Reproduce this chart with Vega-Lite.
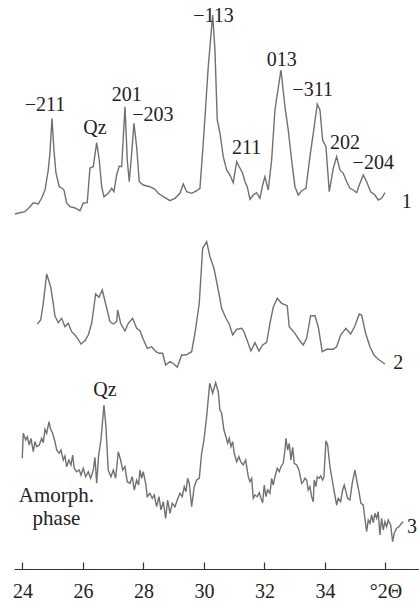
{
  "$schema": "https://vega.github.io/schema/vega-lite/v6.json",
  "width": 405,
  "height": 569,
  "autosize": {"type": "none"},
  "padding": {"left": 14, "top": 0, "right": 0, "bottom": 34},
  "background": "white",
  "config": {"view": {"stroke": null}, "font": "Liberation Serif"},
  "datasets": {
    "curves": [
      {"c":1,"x":23.752,"y":355},{"c":1,"x":23.917,"y":356.3},{"c":1,"x":24.083,"y":357.3},{"c":1,"x":24.248,"y":362.3},{"c":1,"x":24.357,"y":366.3},{"c":1,"x":24.522,"y":365},{"c":1,"x":24.635,"y":371},{"c":1,"x":24.744,"y":379},{"c":1,"x":24.853,"y":399},{"c":1,"x":24.909,"y":416},{"c":1,"x":24.975,"y":450.7},{"c":1,"x":25.041,"y":419},{"c":1,"x":25.107,"y":396},{"c":1,"x":25.217,"y":382.3},{"c":1,"x":25.296,"y":381},{"c":1,"x":25.372,"y":379},{"c":1,"x":25.461,"y":366},{"c":1,"x":25.570,"y":362.3},{"c":1,"x":25.736,"y":361},{"c":1,"x":25.901,"y":358.3},{"c":1,"x":26.010,"y":366},{"c":1,"x":26.142,"y":366.3},{"c":1,"x":26.231,"y":401},{"c":1,"x":26.341,"y":402.3},{"c":1,"x":26.453,"y":426.3},{"c":1,"x":26.539,"y":409},{"c":1,"x":26.618,"y":382.3},{"c":1,"x":26.694,"y":372.3},{"c":1,"x":26.836,"y":375.7},{"c":1,"x":26.949,"y":380.7},{"c":1,"x":27.025,"y":377.3},{"c":1,"x":27.114,"y":394},{"c":1,"x":27.200,"y":403},{"c":1,"x":27.280,"y":402.3},{"c":1,"x":27.389,"y":462.3},{"c":1,"x":27.465,"y":409},{"c":1,"x":27.531,"y":387.3},{"c":1,"x":27.610,"y":415.7},{"c":1,"x":27.686,"y":445.7},{"c":1,"x":27.775,"y":422.3},{"c":1,"x":27.861,"y":387.3},{"c":1,"x":27.994,"y":384},{"c":1,"x":28.215,"y":382.3},{"c":1,"x":28.380,"y":379.7},{"c":1,"x":28.489,"y":375.7},{"c":1,"x":28.655,"y":372.3},{"c":1,"x":28.876,"y":368.3},{"c":1,"x":29.041,"y":370.7},{"c":1,"x":29.207,"y":375.7},{"c":1,"x":29.316,"y":385},{"c":1,"x":29.428,"y":377.3},{"c":1,"x":29.594,"y":375.7},{"c":1,"x":29.759,"y":378.3},{"c":1,"x":29.868,"y":380.7},{"c":1,"x":30.000,"y":436},{"c":1,"x":30.142,"y":502.3},{"c":1,"x":30.288,"y":554},{"c":1,"x":30.364,"y":519},{"c":1,"x":30.440,"y":449},{"c":1,"x":30.529,"y":436},{"c":1,"x":30.638,"y":412.3},{"c":1,"x":30.751,"y":399},{"c":1,"x":30.860,"y":394},{"c":1,"x":30.969,"y":386.3},{"c":1,"x":31.081,"y":407.3},{"c":1,"x":31.167,"y":402.3},{"c":1,"x":31.280,"y":395.7},{"c":1,"x":31.356,"y":387.3},{"c":1,"x":31.432,"y":382.3},{"c":1,"x":31.521,"y":369.7},{"c":1,"x":31.630,"y":374},{"c":1,"x":31.742,"y":376.3},{"c":1,"x":31.851,"y":370.7},{"c":1,"x":31.941,"y":384},{"c":1,"x":32.017,"y":392.3},{"c":1,"x":32.126,"y":379},{"c":1,"x":32.238,"y":409},{"c":1,"x":32.347,"y":459},{"c":1,"x":32.546,"y":499},{"c":1,"x":32.678,"y":462.3},{"c":1,"x":32.787,"y":439},{"c":1,"x":32.899,"y":409},{"c":1,"x":33.008,"y":382.3},{"c":1,"x":33.118,"y":374},{"c":1,"x":33.230,"y":378.3},{"c":1,"x":33.372,"y":380.7},{"c":1,"x":33.504,"y":412.3},{"c":1,"x":33.614,"y":435.7},{"c":1,"x":33.746,"y":465},{"c":1,"x":33.835,"y":459},{"c":1,"x":33.924,"y":429},{"c":1,"x":34.034,"y":422.3},{"c":1,"x":34.143,"y":377.3},{"c":1,"x":34.275,"y":400.7},{"c":1,"x":34.387,"y":412.3},{"c":1,"x":34.496,"y":399},{"c":1,"x":34.606,"y":395.7},{"c":1,"x":34.718,"y":387.3},{"c":1,"x":34.827,"y":380.7},{"c":1,"x":34.936,"y":379},{"c":1,"x":35.049,"y":376.3},{"c":1,"x":35.135,"y":384},{"c":1,"x":35.267,"y":394},{"c":1,"x":35.379,"y":387.3},{"c":1,"x":35.511,"y":377.3},{"c":1,"x":35.653,"y":374},{"c":1,"x":35.763,"y":369},{"c":1,"x":35.875,"y":370.7},{"c":1,"x":35.984,"y":376.3},
      {"c":2,"x":24.489,"y":245},{"c":2,"x":24.602,"y":249},{"c":2,"x":24.688,"y":265.7},{"c":2,"x":24.800,"y":295},{"c":2,"x":24.932,"y":282.3},{"c":2,"x":25.018,"y":265.7},{"c":2,"x":25.074,"y":253},{"c":2,"x":25.183,"y":246.3},{"c":2,"x":25.296,"y":250.7},{"c":2,"x":25.405,"y":242.3},{"c":2,"x":25.514,"y":245.7},{"c":2,"x":25.626,"y":237.3},{"c":2,"x":25.736,"y":234},{"c":2,"x":25.845,"y":229.7},{"c":2,"x":25.934,"y":225},{"c":2,"x":26.066,"y":228.3},{"c":2,"x":26.175,"y":234},{"c":2,"x":26.288,"y":245.7},{"c":2,"x":26.420,"y":275},{"c":2,"x":26.529,"y":271.7},{"c":2,"x":26.638,"y":279},{"c":2,"x":26.760,"y":264},{"c":2,"x":26.893,"y":247.3},{"c":2,"x":27.002,"y":245},{"c":2,"x":27.114,"y":247.3},{"c":2,"x":27.147,"y":259},{"c":2,"x":27.246,"y":245.7},{"c":2,"x":27.388,"y":238},{"c":2,"x":27.498,"y":245.7},{"c":2,"x":27.643,"y":250.7},{"c":2,"x":27.775,"y":240.7},{"c":2,"x":27.884,"y":238.3},{"c":2,"x":27.993,"y":229.7},{"c":2,"x":28.126,"y":220.7},{"c":2,"x":28.271,"y":222.3},{"c":2,"x":28.413,"y":217.3},{"c":2,"x":28.522,"y":215.7},{"c":2,"x":28.635,"y":215.7},{"c":2,"x":28.734,"y":204},{"c":2,"x":28.876,"y":207.3},{"c":2,"x":29.008,"y":205},{"c":2,"x":29.117,"y":201.7},{"c":2,"x":29.263,"y":214},{"c":2,"x":29.405,"y":214},{"c":2,"x":29.593,"y":217.3},{"c":2,"x":29.702,"y":235.7},{"c":2,"x":29.845,"y":265.7},{"c":2,"x":29.957,"y":320.7},{"c":2,"x":30.089,"y":327.3},{"c":2,"x":30.198,"y":312.3},{"c":2,"x":30.331,"y":300.7},{"c":2,"x":30.473,"y":279},{"c":2,"x":30.585,"y":260.7},{"c":2,"x":30.727,"y":250.7},{"c":2,"x":30.836,"y":245},{"c":2,"x":30.949,"y":234},{"c":2,"x":31.081,"y":239.7},{"c":2,"x":31.246,"y":240.7},{"c":2,"x":31.322,"y":237.3},{"c":2,"x":31.445,"y":227.3},{"c":2,"x":31.554,"y":218},{"c":2,"x":31.686,"y":226.3},{"c":2,"x":31.818,"y":218},{"c":2,"x":31.941,"y":224},{"c":2,"x":32.073,"y":226.7},{"c":2,"x":32.182,"y":245.7},{"c":2,"x":32.291,"y":261.7},{"c":2,"x":32.423,"y":270.7},{"c":2,"x":32.569,"y":265.7},{"c":2,"x":32.754,"y":263.3},{"c":2,"x":32.820,"y":242.3},{"c":2,"x":33.008,"y":235.7},{"c":2,"x":33.150,"y":229},{"c":2,"x":33.283,"y":224},{"c":2,"x":33.395,"y":230.7},{"c":2,"x":33.527,"y":253.3},{"c":2,"x":33.669,"y":253.3},{"c":2,"x":33.779,"y":242.3},{"c":2,"x":33.911,"y":217.3},{"c":2,"x":34.056,"y":219.7},{"c":2,"x":34.274,"y":219.7},{"c":2,"x":34.387,"y":222.3},{"c":2,"x":34.519,"y":234},{"c":2,"x":34.694,"y":240.7},{"c":2,"x":34.850,"y":235},{"c":2,"x":34.992,"y":243},{"c":2,"x":35.134,"y":255},{"c":2,"x":35.213,"y":254},{"c":2,"x":35.345,"y":235.7},{"c":2,"x":35.488,"y":222.3},{"c":2,"x":35.620,"y":214},{"c":2,"x":35.762,"y":209.7},{"c":2,"x":35.983,"y":205},
      {"c":3,"x":23.993,"y":110.7},{"c":3,"x":24.026,"y":135.7},{"c":3,"x":24.106,"y":129},{"c":3,"x":24.159,"y":132.3},{"c":3,"x":24.225,"y":124},{"c":3,"x":24.281,"y":130.7},{"c":3,"x":24.357,"y":117.3},{"c":3,"x":24.413,"y":127.3},{"c":3,"x":24.469,"y":122.3},{"c":3,"x":24.555,"y":124},{"c":3,"x":24.635,"y":130.7},{"c":3,"x":24.688,"y":126.3},{"c":3,"x":24.744,"y":139.7},{"c":3,"x":24.800,"y":135.7},{"c":3,"x":24.876,"y":147.3},{"c":3,"x":24.932,"y":139.7},{"c":3,"x":24.998,"y":135.7},{"c":3,"x":25.074,"y":127.3},{"c":3,"x":25.131,"y":119},{"c":3,"x":25.217,"y":115.7},{"c":3,"x":25.273,"y":119},{"c":3,"x":25.349,"y":109},{"c":3,"x":25.405,"y":113},{"c":3,"x":25.461,"y":102.3},{"c":3,"x":25.537,"y":109},{"c":3,"x":25.603,"y":104},{"c":3,"x":25.660,"y":114},{"c":3,"x":25.712,"y":100.7},{"c":3,"x":25.792,"y":97.3},{"c":3,"x":25.878,"y":99},{"c":3,"x":25.934,"y":94},{"c":3,"x":26.010,"y":100.7},{"c":3,"x":26.089,"y":92.3},{"c":3,"x":26.175,"y":97.3},{"c":3,"x":26.255,"y":90.7},{"c":3,"x":26.341,"y":99},{"c":3,"x":26.397,"y":111.7},{"c":3,"x":26.453,"y":85.7},{"c":3,"x":26.519,"y":114},{"c":3,"x":26.595,"y":129},{"c":3,"x":26.694,"y":164},{"c":3,"x":26.760,"y":142.3},{"c":3,"x":26.836,"y":99},{"c":3,"x":26.926,"y":92.3},{"c":3,"x":27.002,"y":99},{"c":3,"x":27.081,"y":90.7},{"c":3,"x":27.167,"y":117.3},{"c":3,"x":27.246,"y":109},{"c":3,"x":27.312,"y":99},{"c":3,"x":27.388,"y":102.3},{"c":3,"x":27.464,"y":87.3},{"c":3,"x":27.554,"y":85.7},{"c":3,"x":27.630,"y":92.3},{"c":3,"x":27.696,"y":79},{"c":3,"x":27.775,"y":89},{"c":3,"x":27.841,"y":84},{"c":3,"x":27.884,"y":99},{"c":3,"x":27.940,"y":90.7},{"c":3,"x":27.993,"y":97.3},{"c":3,"x":28.073,"y":85.7},{"c":3,"x":28.126,"y":72.3},{"c":3,"x":28.215,"y":75.7},{"c":3,"x":28.291,"y":70.7},{"c":3,"x":28.357,"y":74},{"c":3,"x":28.436,"y":62.3},{"c":3,"x":28.512,"y":72.3},{"c":3,"x":28.579,"y":59},{"c":3,"x":28.655,"y":67.3},{"c":3,"x":28.734,"y":50.7},{"c":3,"x":28.800,"y":69},{"c":3,"x":28.876,"y":55.7},{"c":3,"x":28.952,"y":65.7},{"c":3,"x":29.041,"y":62.3},{"c":3,"x":29.117,"y":69},{"c":3,"x":29.207,"y":75.7},{"c":3,"x":29.283,"y":72.3},{"c":3,"x":29.349,"y":82.3},{"c":3,"x":29.405,"y":77.3},{"c":3,"x":29.461,"y":90.7},{"c":3,"x":29.514,"y":85.7},{"c":3,"x":29.593,"y":62.3},{"c":3,"x":29.679,"y":82.3},{"c":3,"x":29.759,"y":89},{"c":3,"x":29.845,"y":90.7},{"c":3,"x":29.924,"y":115.7},{"c":3,"x":30.000,"y":129},{"c":3,"x":30.089,"y":152.3},{"c":3,"x":30.190,"y":185.7},{"c":3,"x":30.288,"y":175.7},{"c":3,"x":30.387,"y":186.3},{"c":3,"x":30.473,"y":177.3},{"c":3,"x":30.529,"y":159},{"c":3,"x":30.585,"y":155.7},{"c":3,"x":30.661,"y":139},{"c":3,"x":30.727,"y":132.3},{"c":3,"x":30.783,"y":125.7},{"c":3,"x":30.836,"y":130.7},{"c":3,"x":30.893,"y":122.3},{"c":3,"x":30.949,"y":127.3},{"c":3,"x":31.002,"y":115.7},{"c":3,"x":31.081,"y":107.3},{"c":3,"x":31.157,"y":112.3},{"c":3,"x":31.213,"y":107.3},{"c":3,"x":31.299,"y":104},{"c":3,"x":31.379,"y":109},{"c":3,"x":31.465,"y":92.3},{"c":3,"x":31.521,"y":87.3},{"c":3,"x":31.577,"y":90.7},{"c":3,"x":31.630,"y":70.7},{"c":3,"x":31.686,"y":74},{"c":3,"x":31.762,"y":72.3},{"c":3,"x":31.828,"y":76.3},{"c":3,"x":31.884,"y":70.7},{"c":3,"x":31.941,"y":66.3},{"c":3,"x":31.993,"y":84},{"c":3,"x":32.050,"y":72.3},{"c":3,"x":32.106,"y":79},{"c":3,"x":32.182,"y":75.7},{"c":3,"x":32.238,"y":90.7},{"c":3,"x":32.291,"y":84},{"c":3,"x":32.347,"y":92.3},{"c":3,"x":32.423,"y":100.7},{"c":3,"x":32.489,"y":97.3},{"c":3,"x":32.546,"y":102.3},{"c":3,"x":32.621,"y":105.7},{"c":3,"x":32.678,"y":119},{"c":3,"x":32.711,"y":130.7},{"c":3,"x":32.767,"y":119},{"c":3,"x":32.820,"y":125.7},{"c":3,"x":32.876,"y":109},{"c":3,"x":32.932,"y":121.7},{"c":3,"x":32.985,"y":105.7},{"c":3,"x":33.064,"y":104},{"c":3,"x":33.140,"y":99},{"c":3,"x":33.230,"y":85.7},{"c":3,"x":33.283,"y":87.3},{"c":3,"x":33.339,"y":90.7},{"c":3,"x":33.395,"y":89},{"c":3,"x":33.448,"y":79},{"c":3,"x":33.504,"y":82.3},{"c":3,"x":33.560,"y":72.3},{"c":3,"x":33.614,"y":67.3},{"c":3,"x":33.646,"y":89},{"c":3,"x":33.702,"y":82.3},{"c":3,"x":33.745,"y":92.3},{"c":3,"x":33.812,"y":90.7},{"c":3,"x":33.858,"y":93},{"c":3,"x":33.924,"y":89},{"c":3,"x":33.967,"y":92.3},{"c":3,"x":34.033,"y":128.3},{"c":3,"x":34.089,"y":124},{"c":3,"x":34.165,"y":102.3},{"c":3,"x":34.241,"y":89},{"c":3,"x":34.307,"y":77.3},{"c":3,"x":34.387,"y":64},{"c":3,"x":34.440,"y":70.7},{"c":3,"x":34.519,"y":67.3},{"c":3,"x":34.585,"y":79},{"c":3,"x":34.638,"y":84},{"c":3,"x":34.694,"y":77.3},{"c":3,"x":34.750,"y":70.7},{"c":3,"x":34.826,"y":69},{"c":3,"x":34.902,"y":85.7},{"c":3,"x":34.992,"y":99},{"c":3,"x":35.048,"y":89},{"c":3,"x":35.124,"y":77.3},{"c":3,"x":35.190,"y":65.7},{"c":3,"x":35.266,"y":64},{"c":3,"x":35.322,"y":50.7},{"c":3,"x":35.379,"y":37.3},{"c":3,"x":35.432,"y":49},{"c":3,"x":35.488,"y":45.7},{"c":3,"x":35.544,"y":54},{"c":3,"x":35.597,"y":46.3},{"c":3,"x":35.653,"y":55.7},{"c":3,"x":35.709,"y":50.7},{"c":3,"x":35.762,"y":57.3},{"c":3,"x":35.818,"y":34},{"c":3,"x":35.874,"y":50.7},{"c":3,"x":35.927,"y":39},{"c":3,"x":35.983,"y":47.3},{"c":3,"x":36.039,"y":42.3},{"c":3,"x":36.092,"y":49},{"c":3,"x":36.172,"y":44},{"c":3,"x":36.238,"y":27.3},{"c":3,"x":36.291,"y":35.7},{"c":3,"x":36.370,"y":40.7},{"c":3,"x":36.446,"y":42.3},{"c":3,"x":36.535,"y":45.7},{"c":3,"x":36.588,"y":47.3}
    ],
    "labels": [
      {"t":"−211","x":24.744,"y":464,"a":"center","s":"normal","f":20},
      {"t":"Qz","x":26.397,"y":441,"a":"center","s":"normal","f":20},
      {"t":"201","x":27.445,"y":474,"a":"center","s":"normal","f":20},
      {"t":"−203","x":28.314,"y":454,"a":"center","s":"normal","f":20},
      {"t":"−113","x":30.314,"y":553,"a":"left","s":"normal","f":20},
      {"t":"211","x":31.412,"y":421,"a":"center","s":"normal","f":20},
      {"t":"013","x":32.569,"y":509,"a":"center","s":"normal","f":20},
      {"t":"−311","x":33.593,"y":479,"a":"center","s":"normal","f":20},
      {"t":"202","x":34.661,"y":426,"a":"center","s":"normal","f":20},
      {"t":"−204","x":35.597,"y":406,"a":"center","s":"normal","f":20},
      {"t":"Qz","x":26.727,"y":179,"a":"center","s":"normal","f":20},
      {"t":"Amorph.","x":25.124,"y":73.5,"a":"center","s":"normal","f":21},
      {"t":"phase","x":25.124,"y":50,"a":"center","s":"normal","f":21},
      {"t":"1","x":36.701,"y":367.3,"a":"center","s":"italic","f":20},
      {"t":"2","x":36.423,"y":205.7,"a":"center","s":"italic","f":20},
      {"t":"3","x":36.88,"y":42.3,"a":"center","s":"italic","f":20}
    ]
  },
  "layer": [
    {
      "data": {"name": "curves"},
      "mark": {"type": "line", "color": "#707070", "strokeWidth": 1.4, "clip": true},
      "encoding": {
        "x": {
          "field": "x", "type": "quantitative",
          "scale": {"domain": [23.72, 37.11], "nice": false, "zero": false},
          "axis": {
            "title": null, "values": [24, 26, 28, 30, 32, 34, 36],
            "labelExpr": "datum.value == 36 ? '°2Θ' : datum.label",
            "grid": false, "domainColor": "#333", "domainWidth": 1.2,
            "tickColor": "#333", "tickWidth": 1.2, "tickSize": -7,
            "labelFont": "Liberation Serif", "labelFontSize": 20, "labelColor": "#222",
            "labelPadding": 19, "labelFlush": false, "labelOverlap": false
          }
        },
        "y": {
          "field": "y", "type": "quantitative",
          "scale": {"domain": [0, 569], "nice": false, "zero": false},
          "axis": null
        },
        "detail": {"field": "c", "type": "nominal"}
      }
    },
    {
      "data": {"name": "labels"},
      "mark": {"type": "text", "font": "Liberation Serif", "color": "#222", "baseline": "middle"},
      "encoding": {
        "x": {"field": "x", "type": "quantitative"},
        "y": {"field": "y", "type": "quantitative"},
        "text": {"field": "t"},
        "size": {"field": "f", "type": "quantitative", "scale": null},
        "align": {"field": "a", "type": "nominal", "scale": null},
        "fontStyle": {"field": "s", "type": "nominal", "scale": null}
      }
    }
  ]
}
